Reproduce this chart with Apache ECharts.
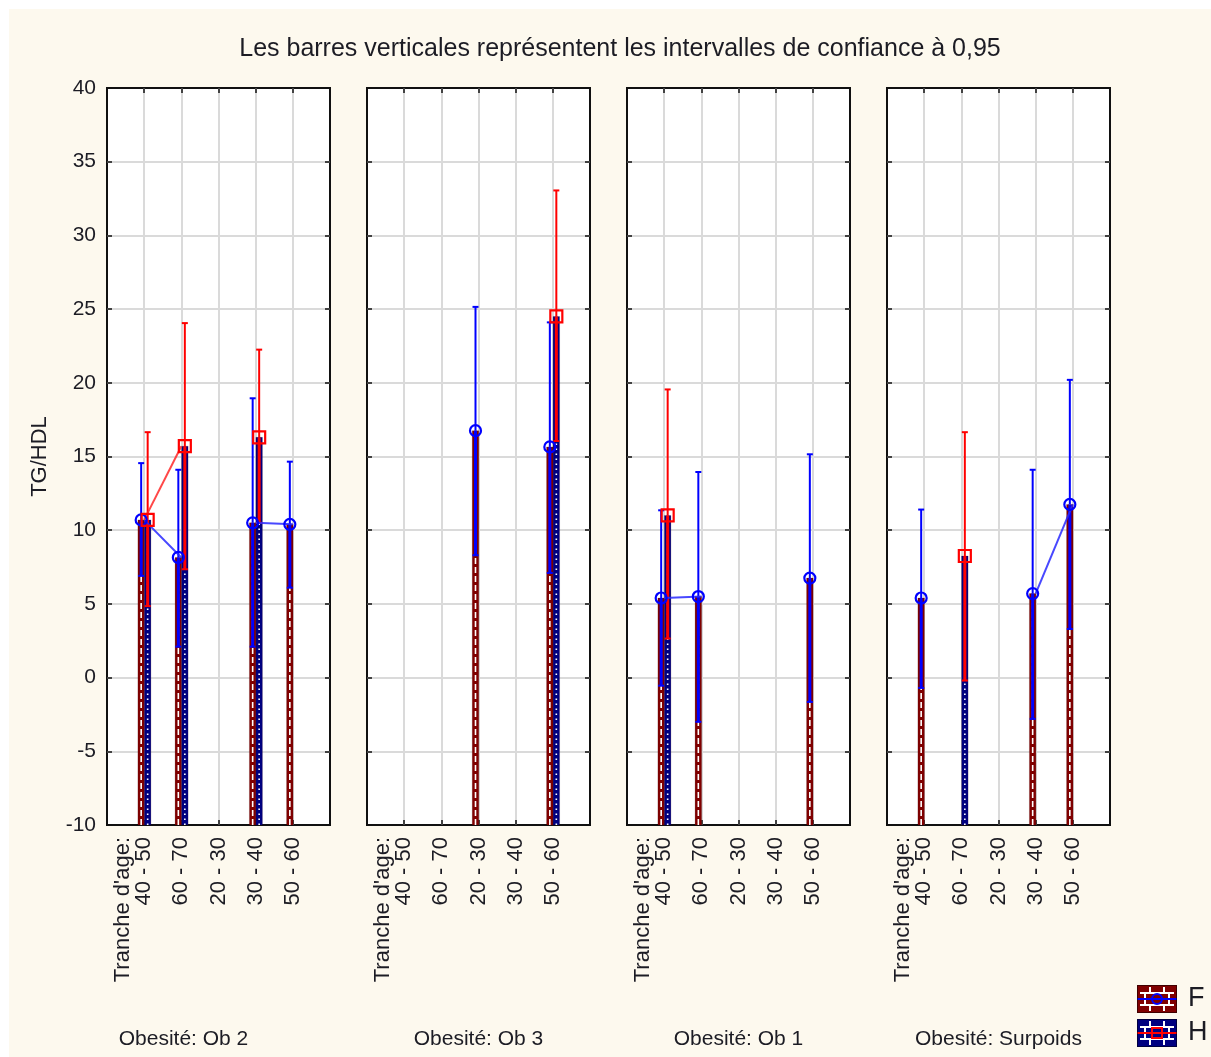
<!DOCTYPE html>
<html>
<head>
<meta charset="utf-8">
<script src="https://cdn.jsdelivr.net/npm/echarts@6/dist/echarts.min.js"></script>
<style>
  html, body { margin: 0; padding: 0; background: #ffffff; }
  #chart { position: absolute; left: 9px; top: 9px; width: 1202px; height: 1048px; }
</style>
</head>
<body>
<div id="chart"></div>
<script>
// Age groups (x categories) and obesity groups (one panel each)
const AGE_GROUPS = ['40 - 50', '60 - 70', '20 - 30', '30 - 40', '50 - 60'];
const AGE_AXIS_TITLE = "Tranche d'age:";
const OBESITY_GROUPS = ['Ob 2', 'Ob 3', 'Ob 1', 'Surpoids'];
const PANEL_PREFIX = 'Obesité: ';
const Y_TICKS = [-10, -5, 0, 5, 10, 15, 20, 25, 30, 35, 40];
const TITLE = 'Les barres verticales représentent les intervalles de confiance à 0,95';
const Y_NAME = 'TG/HDL';
const SEX = ['F', 'H'];

// TG/HDL means and 95% confidence limits, [panel][age group]; null = no observation
const F_MEAN = [
  [10.7, 8.15, null, 10.5, 10.4],
  [null, null, 16.75, null, 15.65],
  [5.4, 5.5, null, null, 6.75],
  [5.4, null, null, 5.7, 11.75]
];
const F_LOW = [
  [6.9, 2.1, null, 2.1, 6.1],
  [null, null, 8.3, null, 7.1],
  [-0.55, -3.0, null, null, -1.65],
  [-0.7, null, null, -2.8, 3.3]
];
const F_HIGH = [
  [14.55, 14.1, null, 18.95, 14.65],
  [null, null, 25.15, null, 24.1],
  [11.35, 13.95, null, null, 15.15],
  [11.4, null, null, 14.1, 20.2]
];
const H_MEAN = [
  [10.7, 15.7, null, 16.3, null],
  [null, null, null, null, 24.5],
  [11.0, null, null, null, null],
  [null, 8.25, null, null, null]
];
const H_LOW = [
  [4.85, 7.35, null, 10.5, null],
  [null, null, null, null, 16.05],
  [2.65, null, null, null, null],
  [null, -0.2, null, null, null]
];
const H_HIGH = [
  [16.65, 24.05, null, 22.25, null],
  [null, null, null, null, 33.05],
  [19.55, null, null, null, null],
  [null, 16.65, null, null, null]
];

const Y_MIN = Y_TICKS[0];
const Y_MAX = Y_TICKS[Y_TICKS.length - 1];
const Y_STEP = Y_TICKS[1] - Y_TICKS[0];

const FONT = '"Liberation Sans", Arial, sans-serif';
const TEXT_COLOR = '#1c1c24';
const GRID_LINE = '#dadada';

// per-sex drawing style: bar fill, CI line colour, pattern dash, pixel shift
const STYLE = {
  F: { bar: '#800000', ci: '#0000ff', line: 'rgba(40,40,255,0.85)', dash: [6, 3], shift: -3, symbol: 'circle', symbolSize: 11 },
  H: { bar: '#000080', ci: '#ff0000', line: 'rgba(255,40,40,0.85)', dash: [1.5, 3.5], shift: 3.5, symbol: 'rect', symbolSize: 12 }
};
const BAR_W = 6.5;

const chart = echarts.init(document.getElementById('chart'), null, { renderer: 'canvas' });

// Legend swatch: patterned box with the series line and marker
function legendIcon(sex) {
  const s = STYLE[sex];
  const c = document.createElement('canvas');
  c.width = 40; c.height = 28;
  const g = c.getContext('2d');
  g.fillStyle = s.bar;
  g.fillRect(0, 0, 40, 28);
  g.strokeStyle = '#ffffff';
  g.lineWidth = 2;
  g.beginPath();
  g.moveTo(3, 8); g.lineTo(37, 8);
  g.moveTo(3, 20); g.lineTo(37, 20);
  g.moveTo(13, 2); g.lineTo(13, 8);
  g.moveTo(27, 2); g.lineTo(27, 8);
  g.moveTo(13, 20); g.lineTo(13, 26);
  g.moveTo(27, 20); g.lineTo(27, 26);
  g.moveTo(8, 8); g.lineTo(8, 20);
  g.moveTo(32, 8); g.lineTo(32, 20);
  g.stroke();
  g.strokeStyle = s.ci;
  g.lineWidth = 2;
  g.beginPath();
  g.moveTo(0, 14); g.lineTo(40, 14);
  g.stroke();
  g.beginPath();
  if (s.symbol === 'circle') {
    g.arc(20, 14, 5, 0, Math.PI * 2);
  } else {
    g.rect(15, 9, 10, 10);
  }
  g.stroke();
  g.strokeStyle = 'rgba(0,0,0,0.5)';
  g.lineWidth = 1;
  g.strokeRect(0.5, 0.5, 39, 27);
  return 'image://' + c.toDataURL();
}

// Bar from the axis floor to the mean plus the confidence interval whisker
function intervalRenderer(sex) {
  const s = STYLE[sex];
  return function (params, api) {
    const cat = api.value(0);
    const mean = api.value(1);
    const lo = api.value(2);
    const hi = api.value(3);
    const cx = api.coord([cat, mean])[0] + s.shift;
    const yBase = api.coord([cat, Y_MIN])[1];
    const yMean = api.coord([cat, mean])[1];
    const yLo = api.coord([cat, lo])[1];
    const yHi = api.coord([cat, hi])[1];
    return {
      type: 'group',
      children: [
        { type: 'rect', shape: { x: cx - BAR_W / 2, y: yMean, width: BAR_W, height: yBase - yMean },
          style: { fill: s.bar, stroke: 'rgba(60,0,0,0.35)', lineWidth: 0.5 } },
        { type: 'line', shape: { x1: cx, y1: yBase, x2: cx, y2: yMean },
          style: { stroke: '#ffffff', lineWidth: 1.6, lineDash: s.dash } },
        { type: 'line', shape: { x1: cx, y1: yLo, x2: cx, y2: yMean },
          style: { stroke: s.ci, lineWidth: 3 } },
        { type: 'line', shape: { x1: cx, y1: yMean, x2: cx, y2: yHi },
          style: { stroke: s.ci, lineWidth: 2 } },
        { type: 'line', shape: { x1: cx - 3, y1: yHi, x2: cx + 3, y2: yHi },
          style: { stroke: s.ci, lineWidth: 2 } },
        { type: 'line', shape: { x1: cx - 3, y1: yLo, x2: cx + 3, y2: yLo },
          style: { stroke: s.ci, lineWidth: 2 } }
      ]
    };
  };
}

const DATA = { F: [F_MEAN, F_LOW, F_HIGH], H: [H_MEAN, H_LOW, H_HIGH] };

const grids = [], xAxes = [], yAxes = [], series = [];
const PANEL_LEFT = 98, PANEL_STEP = 260, PANEL_W = 223, PANEL_TOP = 79, PANEL_H = 737;

OBESITY_GROUPS.forEach(function (grp, p) {
  grids.push({
    left: PANEL_LEFT + PANEL_STEP * p, top: PANEL_TOP, width: PANEL_W, height: PANEL_H,
    show: true, backgroundColor: '#ffffff', borderColor: '#111111', borderWidth: 2,
    containLabel: false, outerBoundsMode: 'none'
  });

  const xCommon = {
    type: 'value', gridIndex: p, min: 0, max: AGE_GROUPS.length + 1, interval: 1,
    axisLine: { show: false, onZero: false },
    axisTick: { show: true, inside: true, length: 5, lineStyle: { color: '#111', width: 1.5 } }
  };
  xAxes.push(Object.assign({}, xCommon, {
    position: 'bottom',
    splitLine: { show: true, showMinLine: false, showMaxLine: false, lineStyle: { color: GRID_LINE, width: 2 } },
    axisLabel: {
      show: true, rotate: 90, margin: 12, fontSize: 22, lineHeight: 21, color: TEXT_COLOR, fontFamily: FONT,
      formatter: function (v) {
        const i = Math.round(v) - 1;
        if (i < 0 || i >= AGE_GROUPS.length) return '';
        return i === 0 ? AGE_AXIS_TITLE + '\n' + AGE_GROUPS[0] + '\n ' : AGE_GROUPS[i];
      }
    },
    name: PANEL_PREFIX + grp, nameLocation: 'middle', nameGap: 204,
    nameTextStyle: { fontSize: 21, color: TEXT_COLOR, fontFamily: FONT, padding: p === 0 ? [0, 70, 0, 0] : 0 }
  }));
  xAxes.push(Object.assign({}, xCommon, {
    position: 'top', splitLine: { show: false }, axisLabel: { show: false }
  }));

  const yCommon = {
    type: 'value', gridIndex: p, min: Y_MIN, max: Y_MAX, interval: Y_STEP,
    axisLine: { show: false, onZero: false },
    axisTick: { show: true, inside: true, length: 5, lineStyle: { color: '#111', width: 1.5 } }
  };
  yAxes.push(Object.assign({}, yCommon, {
    position: 'left',
    splitLine: { show: true, showMinLine: false, showMaxLine: false, lineStyle: { color: GRID_LINE, width: 2 } },
    axisLabel: { show: p === 0, margin: 11, fontSize: 21, color: TEXT_COLOR, fontFamily: FONT },
    name: p === 0 ? Y_NAME : '', nameLocation: 'middle', nameGap: 56,
    nameTextStyle: { fontSize: 22, color: TEXT_COLOR, fontFamily: FONT }
  }));
  yAxes.push(Object.assign({}, yCommon, {
    position: 'right', splitLine: { show: false }, axisLabel: { show: false }
  }));

  SEX.forEach(function (sex) {
    const [MEAN, LOW, HIGH] = DATA[sex];
    const items = [];
    AGE_GROUPS.forEach(function (_, j) {
      if (MEAN[p][j] != null) items.push([j + 1, MEAN[p][j], LOW[p][j], HIGH[p][j]]);
    });
    series.push({
      type: 'custom', name: sex, xAxisIndex: 2 * p, yAxisIndex: 2 * p,
      encode: { x: 0, y: [1, 2, 3] }, data: items, z: 2,
      renderItem: intervalRenderer(sex), silent: true
    });
  });

  SEX.forEach(function (sex) {
    const MEAN = DATA[sex][0];
    const s = STYLE[sex];
    series.push({
      type: 'line', name: sex, xAxisIndex: 2 * p, yAxisIndex: 2 * p, z: 3,
      data: AGE_GROUPS.map(function (_, j) {
        return [j + 1, MEAN[p][j] == null ? '-' : MEAN[p][j]];
      }),
      connectNulls: false, silent: true,
      symbol: s.symbol, symbolSize: s.symbolSize, showSymbol: true,
      symbolOffset: [s.shift, 0],
      lineStyle: { color: s.line, width: 2 },
      itemStyle: { color: 'rgba(0,0,0,0)', borderColor: s.ci, borderWidth: 2.2 },
      emphasis: { disabled: true }
    });
  });
});

chart.setOption({
  animation: false,
  backgroundColor: '#fdf9ee',
  textStyle: { fontFamily: FONT },
  title: {
    text: TITLE, left: 606, top: 23, textAlign: 'center',
    textStyle: { fontSize: 25, fontWeight: 'normal', color: TEXT_COLOR, fontFamily: FONT }
  },
  legend: {
    orient: 'vertical', left: 1123, top: 971, itemWidth: 40, itemHeight: 28, itemGap: 6,
    selectedMode: false,
    data: SEX.map(function (sex) { return { name: sex, icon: legendIcon(sex) }; }),
    textStyle: { fontSize: 27, color: TEXT_COLOR, fontFamily: FONT, padding: [0, 0, 0, 6] }
  },
  grid: grids,
  xAxis: xAxes,
  yAxis: yAxes,
  series: series
});
</script>
</body>
</html>
